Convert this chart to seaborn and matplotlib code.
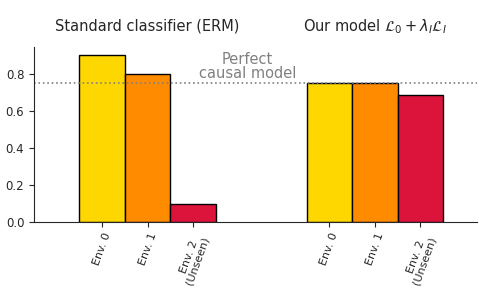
import matplotlib
matplotlib.use("Agg")
import matplotlib.pyplot as plt
import matplotlib.transforms as mtransforms
import seaborn as sns
import pandas as pd

# bar values
positions = [0, 1, 2, 5, 6, 7]
envs = ["Env. 0", "Env. 1", "Env. 2\n(Unseen)", "Env. 0", "Env. 1", "Env. 2\n(Unseen)"]
env_key = ["e0", "e1", "e2", "e0", "e1", "e2"]
values = [0.90, 0.80, 0.10, 0.75, 0.75, 0.685]
colors = {"e0": "gold", "e1": "darkorange", "e2": "crimson"}
group_titles = ["Standard classifier (ERM)", r"Our model $\mathcal{L}_0 + \lambda_I\mathcal{L}_I$"]
group_centers = [1, 6]
perfect = 0.75

df = pd.DataFrame({"pos": positions, "value": values, "env": env_key})

sns.set_style("ticks")
fig = plt.figure(figsize=(4.79, 2.91), dpi=100)
ax = fig.add_axes([0.071, 0.237, 0.925, 0.601])

sns.barplot(data=df, x="pos", y="value", hue="env", palette=colors,
            native_scale=True, width=1, dodge=False, edgecolor="black",
            linewidth=1, saturation=1, legend=False, ax=ax)

ax.axhline(perfect, color="gray", linestyle=":", linewidth=1.2)
ax.text(3.2, 0.84, "Perfect\ncausal model", color="gray", fontsize=10.5,
        ha="center", va="center", linespacing=0.95)

trans = mtransforms.blended_transform_factory(ax.transData, ax.transAxes)
for c, t in zip(group_centers, group_titles):
    ax.text(c, 1.12, t, ha="center", va="center", fontsize=10.5, transform=trans)

ax.set_xlim(-1.5, 8.25)
ax.set_ylim(0, 0.945)
ax.set_yticks([0, 0.2, 0.4, 0.6, 0.8])
ax.set_xticks(positions)
ax.set_xticklabels(envs, rotation=70, fontsize=8, ha="center", va="top", linespacing=0.9)
ax.tick_params(axis="y", labelsize=8.5)
ax.set_xlabel("")
ax.set_ylabel("")
sns.despine(ax=ax)

fig.savefig("out.png", dpi=100)
